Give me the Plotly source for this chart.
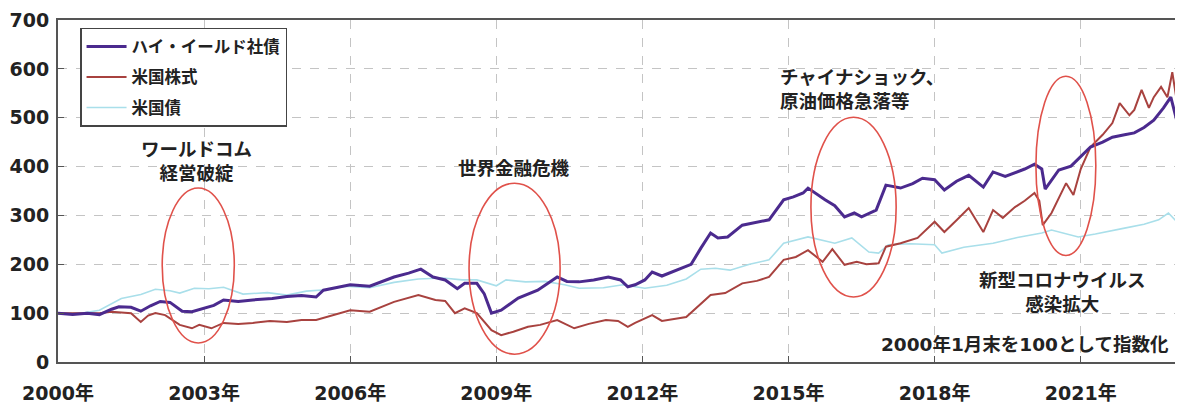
import plotly.graph_objects as go

# ---------------- data ----------------
hy_x = [2000.0, 2000.3, 2000.6, 2000.85, 2001.1, 2001.25, 2001.5, 2001.7, 2001.9, 2002.1, 2002.3, 2002.55,
        2002.75, 2003.0, 2003.2, 2003.4, 2003.7, 2004.0, 2004.4, 2004.7, 2005.0, 2005.3, 2005.45, 2005.75,
        2006.0, 2006.4, 2006.9, 2007.2, 2007.45, 2007.7, 2007.95, 2008.2, 2008.35, 2008.6, 2008.75, 2008.9,
        2009.1, 2009.45, 2009.85, 2010.25, 2010.45, 2010.7, 2011.0, 2011.3, 2011.55, 2011.7, 2011.85, 2012.05,
        2012.2, 2012.4, 2012.8, 2013.0, 2013.2, 2013.4, 2013.55, 2013.75, 2014.05, 2014.35, 2014.6, 2014.9,
        2015.1, 2015.3, 2015.4, 2015.75, 2015.95, 2016.15, 2016.35, 2016.5, 2016.8, 2017.0, 2017.3, 2017.55,
        2017.75, 2018.0, 2018.2, 2018.45, 2018.7, 2019.0, 2019.2, 2019.45, 2019.65, 2019.85, 2020.05, 2020.2,
        2020.27, 2020.55, 2020.8, 2021.0, 2021.2, 2021.45, 2021.65, 2021.9, 2022.1, 2022.3, 2022.5, 2022.7,
        2022.85, 2022.97, 2023.1]
hy_y = [100, 97, 100, 97, 108, 113, 112, 104, 115, 124, 122, 104,
        103, 110, 116, 127, 124, 127, 130, 134, 136, 133, 147, 153,
        158, 155, 174, 182, 190, 174, 168, 150, 161, 161, 140, 100,
        106, 131, 147, 174, 165, 164, 168, 174, 168, 154, 158, 168,
        184, 176, 192, 200, 233, 264, 254, 256, 280, 286, 291, 332,
        338, 346, 356, 332, 320, 297, 305, 297, 311, 362, 356, 365,
        376, 373, 352, 370, 382, 358, 389, 380, 387, 395, 405, 395,
        354, 393, 401, 420, 440, 450, 460, 465, 469, 480, 495, 520,
        542, 495, 516]

eq_x = [2000.0, 2000.5, 2000.85, 2001.1, 2001.5, 2001.7, 2001.85, 2002.0, 2002.2, 2002.5, 2002.75, 2002.9,
        2003.15, 2003.4, 2003.7, 2004.0, 2004.35, 2004.7, 2005.0, 2005.3, 2005.6, 2006.0, 2006.4, 2006.9,
        2007.4, 2007.75, 2007.95, 2008.15, 2008.35, 2008.6, 2008.9, 2009.1, 2009.35, 2009.65, 2009.9, 2010.25,
        2010.6, 2010.9, 2011.25, 2011.5, 2011.7, 2011.85, 2012.2, 2012.4, 2012.9, 2013.2, 2013.4, 2013.7,
        2014.05, 2014.35, 2014.6, 2014.9, 2015.15, 2015.4, 2015.7, 2015.9, 2016.15, 2016.4, 2016.6, 2016.85,
        2017.0, 2017.3, 2017.65, 2018.0, 2018.2, 2018.45, 2018.7, 2019.0, 2019.2, 2019.4, 2019.65, 2019.85,
        2020.05, 2020.15, 2020.22, 2020.4, 2020.7, 2020.85, 2021.0, 2021.2, 2021.45, 2021.65, 2021.8, 2022.0,
        2022.1, 2022.25, 2022.4, 2022.5, 2022.65, 2022.78, 2022.88, 2022.97, 2023.1]
eq_y = [100, 100, 100, 103, 100, 82, 95, 100, 96, 76, 69, 76,
        69, 80, 78, 80, 84, 82, 86, 86, 95, 106, 103, 123,
        137, 127, 125, 100, 110, 100, 65, 55, 62, 72, 76, 86,
        69, 78, 86, 84, 72, 80, 96, 84, 92, 120, 137, 141,
        161, 166, 174, 209, 215, 229, 205, 231, 199, 205, 200, 202,
        236, 243, 254, 287, 266, 290, 315, 266, 311, 295, 317, 330,
        346, 330, 280, 305, 366, 342, 395, 440, 465, 489, 530, 505,
        516, 557, 520, 542, 563, 542, 593, 536, 555]

bd_x = [2000.0, 2000.5, 2000.85, 2001.3, 2001.7, 2002.0, 2002.3, 2002.5, 2002.8, 2003.1, 2003.4, 2003.8,
        2004.3, 2004.7, 2005.1, 2005.5, 2005.9, 2006.4, 2006.9, 2007.4, 2007.9, 2008.3, 2008.6, 2009.0,
        2009.2, 2009.6, 2010.0, 2010.4, 2010.7, 2011.2, 2011.6, 2012.05, 2012.5, 2012.9, 2013.2, 2013.5,
        2013.8, 2014.2, 2014.6, 2014.9, 2015.4, 2015.95, 2016.3, 2016.65, 2016.85, 2017.05, 2017.5, 2018.0,
        2018.15, 2018.6, 2019.2, 2019.7, 2020.2, 2020.4, 2020.95, 2021.3, 2021.9, 2022.3, 2022.6, 2022.8,
        2023.0, 2023.1]
bd_y = [100, 100, 106, 130, 138, 149, 146, 141, 151, 150, 153, 139,
        142, 137, 145, 148, 155, 152, 163, 170, 172, 168, 168, 156,
        168, 164, 165, 158, 151, 152, 158, 151, 157, 170, 190, 192,
        188, 200, 209, 243, 256, 243, 254, 225, 223, 240, 242, 240,
        223, 235, 243, 255, 264, 270, 256, 262, 274, 282, 291, 305,
        284, 290]

series_names = ["ハイ・イールド社債", "米国株式", "米国債"]
x_tick_vals = [2000, 2003, 2006, 2009, 2012, 2015, 2018, 2021]
x_tick_text = ["2000年", "2003年", "2006年", "2009年", "2012年", "2015年", "2018年", "2021年"]
y_tick_vals = [0, 100, 200, 300, 400, 500, 600, 700]

# event annotations: (text, x, y, xanchor, align)
event_labels = [
    ("ワールドコム<br>経営破綻", 2002.85, 413, "center", "center"),
    ("世界金融危機", 2009.36, 399, "center", "center"),
    ("チャイナショック、<br>原油価格急落等", 2014.78, 561, "left", "left"),
    ("新型コロナウイルス<br>感染拡大", 2020.62, 145, "center", "center"),
]
note_text = "2000年1月末を100として指数化"
# ellipses: (x0, x1, y0, y1)
ellipses = [
    (2002.14, 2003.62, 39, 356),
    (2008.44, 2010.31, 16, 366),
    (2015.46, 2017.21, 133, 501),
    (2020.08, 2021.31, 218, 585),
]

# ---------------- figure ----------------
FONT = "DejaVu Sans, Noto Sans CJK JP, sans-serif"
JFONT = "Noto Sans CJK JP, sans-serif"

fig = go.Figure()
fig.add_trace(go.Scatter(x=bd_x, y=bd_y, mode="lines", name=series_names[2],
                         line=dict(color="#a9dfea", width=1.6), legendrank=3, legendgroup="c"))
fig.add_trace(go.Scatter(x=eq_x, y=eq_y, mode="lines", name=series_names[1],
                         line=dict(color="#a8423f", width=2), legendrank=2, legendgroup="b"))
fig.add_trace(go.Scatter(x=hy_x, y=hy_y, mode="lines", name=series_names[0],
                         line=dict(color="#4b2a8e", width=3), legendrank=1, legendgroup="a"))

for (x0, x1, y0, y1) in ellipses:
    fig.add_shape(type="circle", xref="x", yref="y", x0=x0, x1=x1, y0=y0, y1=y1,
                  line=dict(color="#e0514a", width=1.6), layer="above")

for (t, x, y, xa, al) in event_labels:
    fig.add_annotation(x=x, y=y, text=t, showarrow=False, xanchor=xa, align=al,
                       font=dict(family=JFONT, size=18.5, color="#222", weight="bold"))
fig.add_annotation(x=2022.85, y=35, text=note_text, showarrow=False, xanchor="right",
                   font=dict(family=FONT, size=18.5, color="#222", weight="bold"))

# the page body has an 8px margin, so the figure is sized to fit the 1183x403 window
fig.update_layout(
    width=1175, height=395,
    margin=dict(l=50, r=0, t=12, b=41),
    plot_bgcolor="white", paper_bgcolor="white",
    showlegend=True,
    legend=dict(x=0.0196, y=0.977, xanchor="left", yanchor="top",
                bgcolor="white", bordercolor="#444", borderwidth=1.5,
                font=dict(family=JFONT, size=16.5, color="#222", weight="bold"),
                traceorder="grouped", tracegroupgap=6,
                itemwidth=40),
)
fig.update_xaxes(range=[2000, 2023.1], tickvals=x_tick_vals, ticktext=x_tick_text,
                 showgrid=True, gridcolor="#c4c4c4", griddash="dash", gridwidth=1,
                 showline=True, linecolor="#555", linewidth=2, mirror=True,
                 ticks="inside", ticklen=6, tickcolor="#555",
                 ticklabelstandoff=13,
                 tickfont=dict(family=FONT, size=19, color="#222", weight="bold"),
                 zeroline=False)
fig.update_yaxes(range=[0, 700], tickvals=y_tick_vals,
                 showgrid=True, gridcolor="#c4c4c4", griddash="dash", gridwidth=1,
                 showline=True, linecolor="#555", linewidth=2,
                 ticks="inside", ticklen=6, tickcolor="#555",
                 ticklabelstandoff=3,
                 tickfont=dict(family=FONT, size=19, color="#222", weight="bold"),
                 zeroline=False)

fig.write_html("out.html")
